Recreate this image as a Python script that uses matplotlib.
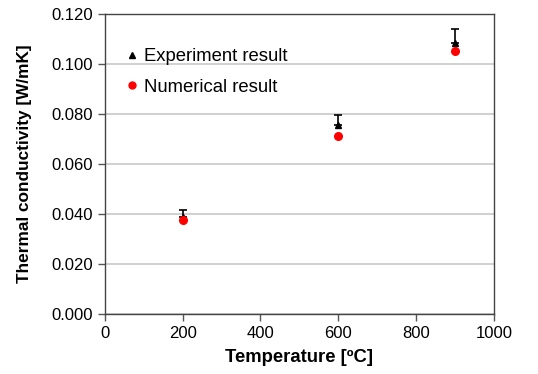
import matplotlib
matplotlib.use("Agg")
import matplotlib.pyplot as plt
from matplotlib.lines import Line2D

plt.rcParams['font.family'] = ['Liberation Sans', 'DejaVu Sans']

temps = [200, 600, 900]
experiment = [0.0388, 0.0756, 0.1085]
exp_err_up = [0.0027, 0.0040, 0.0055]
numerical = [0.0377, 0.0710, 0.1052]

x_ticks = [0, 200, 400, 600, 800, 1000]
y_ticks = [0.000, 0.020, 0.040, 0.060, 0.080, 0.100, 0.120]

fig = plt.figure(figsize=(5.38, 3.74), dpi=100)
ax = fig.add_axes([0.195, 0.160, 0.723, 0.803])

ax.errorbar(temps, experiment, yerr=[[0]*len(exp_err_up), exp_err_up], fmt='^',
            color='black', markersize=5, ecolor='black', elinewidth=1.2, capsize=3.2,
            capthick=1.2, label='Experiment result', zorder=3)
ax.plot(temps, numerical, 'o', color='red', markersize=5.5, label='Numerical result', zorder=4)

ax.set_xlim(0, 1000)
ax.set_ylim(0, 0.12)
ax.set_xticks(x_ticks)
ax.set_yticks(y_ticks)
ax.set_yticklabels([f"{v:.3f}" for v in y_ticks])
ax.tick_params(axis='both', labelsize=12, direction='out', length=5, color='#555555', width=1)
ax.yaxis.grid(True, color='#c8c8c8', linewidth=1.2)
ax.set_axisbelow(True)
for s in ax.spines.values():
    s.set_color('#444444')
    s.set_linewidth(1)

ax.set_xlabel('Temperature [ºC]', fontsize=13.3, fontweight='bold', labelpad=6)
ax.set_ylabel('Thermal conductivity [W/mK]', fontsize=12.4, fontweight='bold', labelpad=14)

h1 = Line2D([], [], marker='^', color='black', linestyle='none', markersize=5)
h2 = Line2D([], [], marker='o', color='red', linestyle='none', markersize=5)
ax.legend([h1, h2], ['Experiment result', 'Numerical result'], loc='upper left',
          bbox_to_anchor=(-0.01, 0.96), frameon=False, fontsize=13.3, handletextpad=0.1,
          handlelength=1.0, labelspacing=0.75, borderaxespad=0.8)

fig.savefig('out.png', dpi=100)
